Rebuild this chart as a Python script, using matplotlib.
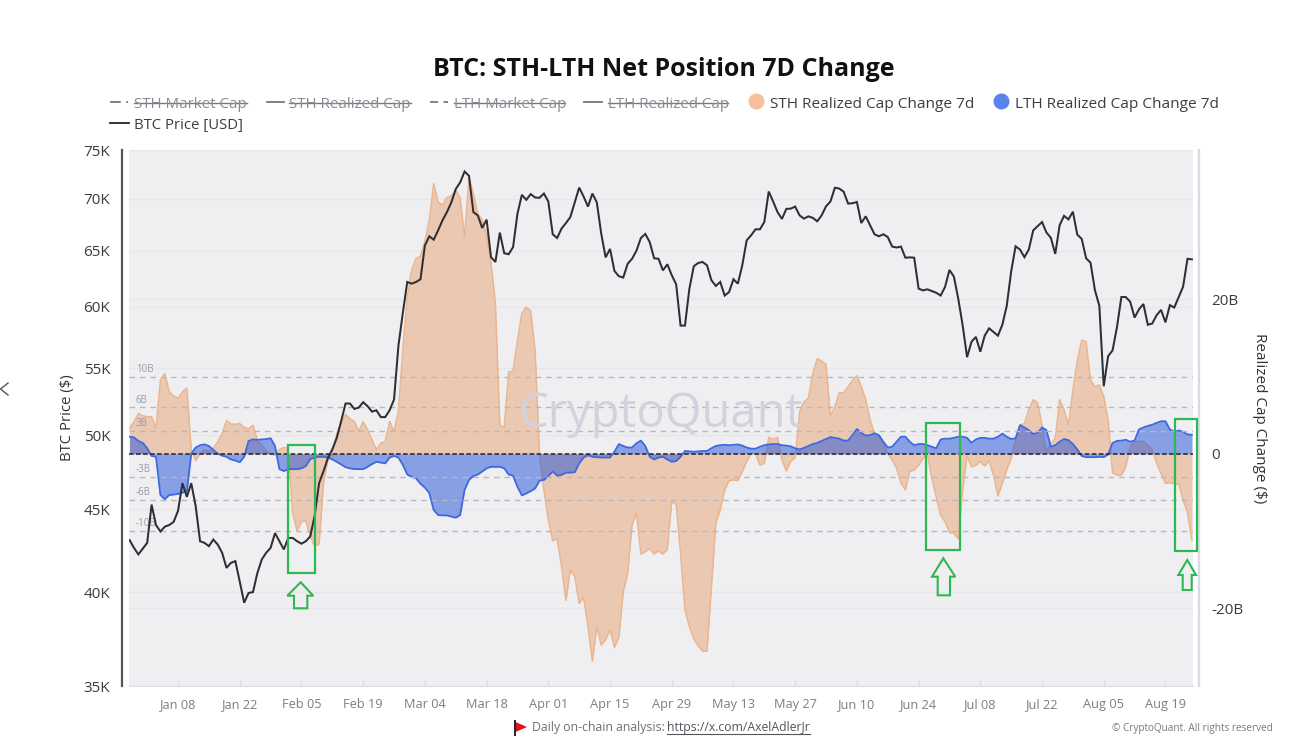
import matplotlib
matplotlib.use("Agg")
import matplotlib.pyplot as plt
from matplotlib.lines import Line2D
from matplotlib.patches import Polygon, Rectangle
from matplotlib.ticker import FixedLocator, FixedFormatter, NullLocator
from matplotlib.transforms import ScaledTranslation
import pandas as pd

plt.rcParams['font.family'] = ['Open Sans', 'DejaVu Sans']

START_DATE = "2023-12-28"
PRICE_K = [
    43.07,42.6,42.2,42.55,42.9,45.3,44.0,43.6,43.9,44.0,
    44.2,44.9,46.7,45.8,46.7,45.2,43.0,42.9,42.7,43.1,
    42.8,42.3,41.4,41.7,41.8,40.6,39.4,39.95,40.0,41.1,
    41.9,42.3,42.6,43.5,43.0,42.5,43.2,43.2,43.0,42.85,
    43.0,43.3,44.6,46.7,47.5,48.4,49.0,49.8,51.0,52.3,
    52.3,51.9,52.0,52.4,52.1,51.7,51.8,51.3,51.3,51.8,
    52.6,56.8,59.5,62.17,62.02,62.17,62.41,65.48,66.34,66.02,
    66.9,67.87,68.66,69.62,70.95,71.62,72.74,72.3,68.66,68.34,
    67.13,67.93,64.4,63.96,66.69,64.76,64.67,65.32,68.5,70.37,
    69.87,70.44,70.1,70.07,70.5,69.7,66.53,66.18,67.07,67.6,
    68.18,69.62,71.1,70.2,69.2,70.5,69.62,66.6,64.38,65.16,
    63.15,62.68,62.56,63.8,64.25,65.0,66.18,66.56,65.8,64.3,
    64.25,63.2,63.75,62.77,61.96,58.43,58.43,61.58,63.57,63.87,
    63.96,63.66,62.32,61.82,62.17,60.98,61.28,62.41,62.02,63.66,
    65.96,66.43,67.0,67.0,67.7,70.7,69.7,68.66,68.0,68.98,
    69.0,69.2,68.34,68.03,68.25,68.1,67.77,68.34,69.23,69.7,
    71.08,71.0,70.68,69.5,69.53,69.66,67.6,68.25,67.39,66.53,
    66.34,66.53,66.27,65.38,65.29,65.38,64.35,64.38,64.35,61.58,
    61.43,61.52,61.37,61.22,60.98,61.73,63.24,62.65,60.7,58.44,
    55.86,57.1,57.5,56.3,57.6,58.2,57.9,57.6,58.5,60.1,
    63.1,65.4,65.1,64.4,65.1,66.9,67.3,67.7,66.7,66.2,
    64.7,67.4,68.3,67.95,68.7,66.5,66.1,64.3,63.9,61.45,
    60.1,53.6,55.95,56.4,58.3,60.85,60.85,60.45,59.1,59.8,
    60.25,58.5,58.6,59.3,59.75,58.7,60.15,59.95,60.85,61.75,
    64.25,64.2,
]
STH_B = [
    3.3,4.1,5.2,4.9,4.8,4.8,3.3,9.5,10.4,8.0,
    7.5,7.2,8.0,8.5,0.5,-0.9,0,0.5,0.3,0.7,
    1.55,2.6,4.3,3.85,3.8,3.9,3.4,3.2,3.7,1.7,
    1.1,0.35,0,-0.2,0.55,0.8,0.7,-7.7,-10,-8.8,
    -8.7,-10.7,-12,-11.7,-3.8,-0.8,0,2.6,3.9,5.1,
    4.5,4.2,2.85,4.15,3.1,1.8,0.55,1.4,1.55,4.15,
    2.85,5.6,13.5,20.3,23.8,25.3,25.6,27.5,30.3,35.0,
    32.6,32.2,33.2,33.4,34.2,33.1,28.1,35.7,33.7,31.1,
    30.3,28.3,24.7,19.5,3.7,3.4,10.6,10.7,14.7,18.2,
    19.0,18.5,13.4,0,-4.7,-8.6,-11.3,-11.0,-14.6,-19.0,
    -15.1,-15.9,-19.4,-18.6,-22.4,-26.9,-22.4,-24.8,-24.1,-22.8,
    -25.1,-23.8,-17.9,-15.5,-9.2,-7.7,-13.0,-12.7,-12.3,-13.0,
    -12.6,-13.0,-12.4,-6.2,-6.6,-12.9,-20.3,-22.4,-24.0,-24.9,
    -25.6,-25.6,-17.2,-9.0,-7.3,-4.7,-3.5,-3.4,-3.5,-2.3,
    -1.0,0,0,-1.5,-1.25,2.1,1.9,2.1,-0.8,-2.25,
    -1.0,-0.5,5.4,6.7,7.2,10.4,12.3,12.0,11.6,4.8,
    6.1,7.9,7.9,8.7,9.5,10.1,8.7,7.0,4.4,2.6,
    2.2,1.3,0,-0.8,-1.9,-3.8,-4.7,-2.3,-2.1,-1.5,
    -0.6,0,-3.2,-5.6,-8.0,-8.8,-10.2,-10.3,-11.05,-4.7,
    -0.3,-1.7,-1.5,-1.0,-1.6,-0.9,-2.8,-5.5,-3.8,-2.1,
    -0.6,1.8,3.7,3.9,5.7,7.0,6.6,3.7,0.26,1.3,
    2.0,7.0,5.7,3.7,8.2,12.1,14.7,14.5,9.5,8.7,
    8.9,7.4,4.4,-2.5,-2.8,-2.8,-1.7,0.9,1.6,1.6,
    1.6,1.1,0.5,-1.25,-2.55,-3.85,-3.75,-3.9,-3.9,-6.0,
    -7.6,-11.2,
]
LTH_B = [
    2.2,2.1,1.65,1.4,0.7,-0.3,-0.4,-5.35,-5.9,-5.35,
    -5.3,-5.2,-5.05,-4.9,0,0.8,1.1,1.2,1.0,0.5,
    0,-0.25,-0.4,-0.75,-0.9,-1.1,-0.4,1.65,1.85,1.8,
    1.85,1.9,2.0,1.0,-2.0,-2.25,-2.0,-2.0,-2.0,-1.9,
    -1.6,-0.7,-0.5,-0.4,-0.4,-0.5,-0.75,-1.05,-1.4,-1.75,
    -1.9,-2.0,-2.0,-2.0,-1.7,-1.35,-1.05,-1.15,-1.25,-0.5,
    -0.3,-0.5,-1.45,-2.7,-3.0,-3.2,-3.9,-4.4,-5.1,-7.3,
    -7.95,-8.0,-8.0,-8.15,-8.3,-7.95,-4.7,-3.4,-2.9,-2.7,
    -2.3,-1.9,-1.7,-1.7,-1.7,-1.9,-2.7,-2.85,-4.3,-5.4,
    -5.15,-4.85,-4.5,-3.5,-3.4,-2.9,-2.3,-2.85,-2.75,-2.45,
    -2.45,-2.4,-1.25,-0.5,-0.2,-0.4,-0.45,-0.5,-0.5,-0.5,
    0.25,1.25,1.0,0.8,0.8,1.35,1.7,1.0,-0.4,-0.75,
    -0.5,-0.4,-0.75,-1.05,-0.95,-0.4,0.35,0.3,0.25,0.3,
    0.35,0.35,0.7,1.0,1.1,1.15,1.1,1.15,1.2,1.05,
    0.8,0.65,0.65,0.9,1.1,1.2,1.25,1.25,1.1,1.05,
    0.95,0.7,0.55,0.75,1.0,1.25,1.4,1.65,1.9,2.15,
    2.05,1.95,1.7,1.7,2.4,3.2,2.7,2.35,2.4,2.65,
    2.4,1.55,0.8,0.9,1.55,2.2,2.2,1.55,1.1,1.25,
    1.25,1.1,0.9,0.7,1.85,1.95,1.95,2.05,2.2,2.2,
    2.05,1.4,1.85,2.05,2.05,1.95,1.95,2.2,2.6,2.2,
    1.9,2.0,3.7,3.4,3.05,2.55,2.7,3.4,3.05,0.9,
    1.1,1.55,1.9,1.75,1.25,0.55,-0.3,-0.45,-0.45,-0.45,
    -0.4,-0.45,-0.1,1.4,1.65,1.7,1.8,1.55,1.7,3.15,
    3.4,3.6,3.75,4.0,4.2,4.2,3.15,2.85,3.0,2.85,
    2.5,2.45,
]
X_TICKS = ["2024-01-08","2024-01-22","2024-02-05","2024-02-19","2024-03-04","2024-03-18",
           "2024-04-01","2024-04-15","2024-04-29","2024-05-13","2024-05-27","2024-06-10",
           "2024-06-24","2024-07-08","2024-07-22","2024-08-05","2024-08-19"]
X_LABELS = ["Jan 08","Jan 22","Feb 05","Feb 19","Mar 04","Mar 18","Apr 01","Apr 15","Apr 29",
            "May 13","May 27","Jun 10","Jun 24","Jul 08","Jul 22","Aug 05","Aug 19"]
PRICE_TICKS = [35000,40000,45000,50000,55000,60000,65000,70000,75000]
PRICE_LABELS = ["35K","40K","45K","50K","55K","60K","65K","70K","75K"]
CAP_TICKS = [-20,0,20]
CAP_LABELS = ["-20B","0","20B"]
REF_LEVELS = [10,6,3,-3,-6,-10]
REF_LABELS = ["10B","6B","3B","-3B","-6B","-10B"]

W, H = 1303, 754
fig = plt.figure(figsize=(W/100, H/100), dpi=100, facecolor='white')

def px(x, y):
    return (x/W, 1 - y/H)

L, R, T, B = 129, 1193, 150, 686
ax = fig.add_axes([L/W, 1-B/H, (R-L)/W, (B-T)/H])
ax.set_facecolor('#EFEFF2')
ax.set_zorder(2)
axr = ax.twinx()
ax.patch.set_visible(True)
axr.patch.set_visible(False)

dates = pd.date_range(START_DATE, periods=len(PRICE_K))
dates_s = pd.date_range(START_DATE, periods=len(STH_B))
dates_l = pd.date_range(START_DATE, periods=len(LTH_B))

# left axis: price (log)
ax.set_yscale('log')
ax.set_ylim(35000, 75000)
ax.yaxis.set_major_locator(FixedLocator(PRICE_TICKS))
ax.yaxis.set_major_formatter(FixedFormatter(PRICE_LABELS))
ax.yaxis.set_minor_locator(NullLocator())
ax.set_xlim(pd.Timestamp(START_DATE) - pd.Timedelta(hours=3), pd.Timestamp(START_DATE) + pd.Timedelta(days=241.25))
ax.set_xticks(pd.to_datetime(X_TICKS))
ax.set_xticklabels(X_LABELS)
ax.tick_params(axis='y', length=0, pad=8.5, labelsize=11, labelcolor='#3c3c3c')
ax.tick_params(axis='x', length=4.5, width=1, direction='in', color='#DCDCE6', pad=8.5, labelsize=9.2, labelcolor='#7d7d85')
ax.grid(axis='y', color='#E7E7EB', lw=1, zorder=0)
ax.set_axisbelow(True)
lift = ScaledTranslation(0, 2.8/100, fig.dpi_scale_trans)
for lab in ax.get_yticklabels():
    lab.set_transform(lab.get_transform() + lift)

# right axis: realized cap change
axr.set_ylim(-30.1, 39.35)
axr.set_yticks(CAP_TICKS)
axr.set_yticklabels(CAP_LABELS)
axr.tick_params(axis='y', length=0, pad=9, labelsize=11, labelcolor='#3c3c3c')
axr.grid(axis='y', color='#E7E7EB', lw=1, zorder=0)
lift_r = ScaledTranslation(0, 3.5/100, fig.dpi_scale_trans)
for lab in axr.get_yticklabels():
    lab.set_transform(lab.get_transform() + lift_r)

ax.spines['top'].set_visible(False)
axr.spines['top'].set_visible(False)
ax.spines['right'].set_visible(False)
axr.spines['left'].set_visible(False)
axr.spines['bottom'].set_visible(False)
ax.spines['bottom'].set_color('#DCDCE6')
ax.spines['left'].set_color('#555555')
ax.spines['left'].set_linewidth(1.6)
ax.spines['left'].set_position(('outward', 5))
axr.spines['right'].set_color('#DADAE6')
axr.spines['right'].set_linewidth(1.6)
axr.spines['right'].set_position(('outward', 4.3))

# watermark
fig.text(*px(660, 414), "CryptoQuant", fontsize=34, color='#D2D2DE', ha='center', va='center', zorder=3,
         fontweight='medium')

# reference levels
for lv, lb in zip(REF_LEVELS, REF_LABELS):
    axr.axhline(lv, color='#B7B7C4', lw=1, ls=(0, (4, 3.5)), zorder=3.35)
    axr.annotate(lb, xy=(0, lv), xycoords=axr.get_yaxis_transform(), xytext=(5, 1.2),
                 textcoords='offset points', fontsize=7, color='#9a9aa5', va='bottom', ha='left', zorder=6)

# series
axr.fill_between(dates_s, STH_B, 0, color='#E9B48E', alpha=0.65, lw=0, zorder=3)
axr.plot(dates_s, STH_B, color='#EAB690', lw=1.1, zorder=3.1)
axr.fill_between(dates_l, LTH_B, 0, color='#2050D8', alpha=0.5, lw=0, zorder=3.2)
axr.plot(dates_l, LTH_B, color='#3F68E0', lw=1.3, zorder=3.3)
axr.axhline(0, color='#222222', lw=1.1, ls=(0, (3, 1.6)), zorder=3.4)

# price drawn over the fills in a transparent overlay
axp = fig.add_axes(ax.get_position(), sharex=ax, frameon=False, zorder=4)
axp.set_yscale('log')
axp.set_ylim(35000, 75000)
axp.plot(dates, [v*1000 for v in PRICE_K], color='#2f2f33', lw=1.45, solid_joinstyle='miter', zorder=5)
axp.axis('off')

# green highlights
GREEN = '#2DB852'
for x0, y0, x1, y1 in [(287.5, 444.5, 315, 573), (926, 423, 960, 549.5), (1175, 419, 1196.5, 550.5)]:
    fig.add_artist(Rectangle(px(x0, y1), (x1-x0)/W, (y1-y0)/H, transform=fig.transFigure,
                             fill=False, ec=GREEN, lw=1.6, zorder=10))
for tip, wl, wr, sl, sr, wy, by in [((300.7, 582.3), 287.3, 313.3, 294, 307.3, 595.7, 608.3),
                                    ((943.3, 558.3), 932, 955.3, 937.7, 950, 576.7, 595.3),
                                    ((1187.3, 560), 1178.3, 1196, 1182.7, 1191.7, 575, 590)]:
    pts = [tip, (wr, wy), (sr, wy), (sr, by), (sl, by), (sl, wy), (wl, wy)]
    fig.add_artist(Polygon([px(*p) for p in pts], closed=True, fill=False, ec=GREEN, lw=1.5,
                           transform=fig.transFigure, zorder=10))

# title
fig.text(*px(663.5, 69), "BTC: STH-LTH Net Position 7D Change", fontsize=18, fontweight='bold',
         color='#111111', ha='center', va='center')

# legend
MUTED = '#8a8a96'
STRIKE = '#77777f'
def leg_line(x0, x1, y, color, ls='-'):
    fig.add_artist(Line2D([x0/W, x1/W], [1-y/H, 1-y/H], color=color, lw=1.3, ls=ls, transform=fig.transFigure))
def leg_struck(x0, x1, y, txt):
    fig.text(*px(x0, y + 1), txt, fontsize=10.9, color=MUTED, ha='left', va='center')
    fig.add_artist(Line2D([x0/W, x1/W], [1-y/H, 1-y/H], color=STRIKE, lw=1, transform=fig.transFigure))
LEG_Y = 102
TXT_Y = 104
leg_line(110, 129, LEG_Y, STRIKE, (0, (6, 3, 1, 3)))
leg_struck(133.5, 247, LEG_Y + 1, "STH Market Cap")
leg_line(266.5, 284, LEG_Y, STRIKE)
leg_struck(289, 411, LEG_Y + 1, "STH Realized Cap")
leg_line(430, 448, LEG_Y, STRIKE, (0, (4.5, 3)))
leg_struck(454, 565, LEG_Y + 1, "LTH Market Cap")
leg_line(584, 602, LEG_Y, STRIKE)
leg_struck(608, 728, LEG_Y + 1, "LTH Realized Cap")
fig.add_artist(Line2D([756/W], [1-101/H], marker='o', ms=11.5, color='#F4BF99', mew=0, transform=fig.transFigure))
fig.text(*px(770, TXT_Y), "STH Realized Cap Change 7d", fontsize=11.1, color='#3c3c44', ha='left', va='center')
fig.add_artist(Line2D([1001/W], [1-101/H], marker='o', ms=11.5, color='#5B82EE', mew=0, transform=fig.transFigure))
fig.text(*px(1015, TXT_Y), "LTH Realized Cap Change 7d", fontsize=11.1, color='#3c3c44', ha='left', va='center')
leg_line(110, 129, 123, '#222222')
fig.text(*px(133.5, 125), "BTC Price [USD]", fontsize=10.7, color='#3c3c44', ha='left', va='center')

# axis titles
fig.text(*px(68, 418), "BTC Price ($)", fontsize=10.7, rotation=90, color='#333333', ha='center', va='center')
fig.text(*px(1259, 418), "Realized Cap Change ($)", fontsize=11, rotation=270, color='#333333', ha='center', va='center')

# side chevron
fig.add_artist(Line2D([8/W, 0.5/W, 8/W], [1-383/H, 1-389/H, 1-395/H], color='#555555', lw=1, transform=fig.transFigure))

# footer
fig.add_artist(Polygon([px(515.5, 722), px(527, 727), px(515.5, 732)], closed=True, fc='#E01020', ec='none', transform=fig.transFigure))
fig.add_artist(Line2D([514.5/W, 514.5/W], [1-721/H, 1-735/H], color='#222222', lw=1.4, transform=fig.transFigure))
fig.text(*px(532, 728), "Daily on-chain analysis:", fontsize=8.85, color='#6f6f78', ha='left', va='center')
fig.text(*px(667, 728), "https://x.com/AxelAdlerJr", fontsize=8.85, color='#55555c', ha='left', va='center')
fig.add_artist(Line2D([667/W, 810/W], [1-734/H, 1-734/H], color='#55555c', lw=0.8, transform=fig.transFigure))
fig.text(*px(1112, 728), "© CryptoQuant. All rights reserved", fontsize=7.2, color='#77777f', ha='left', va='center')

fig.savefig("out.png", dpi=100)
